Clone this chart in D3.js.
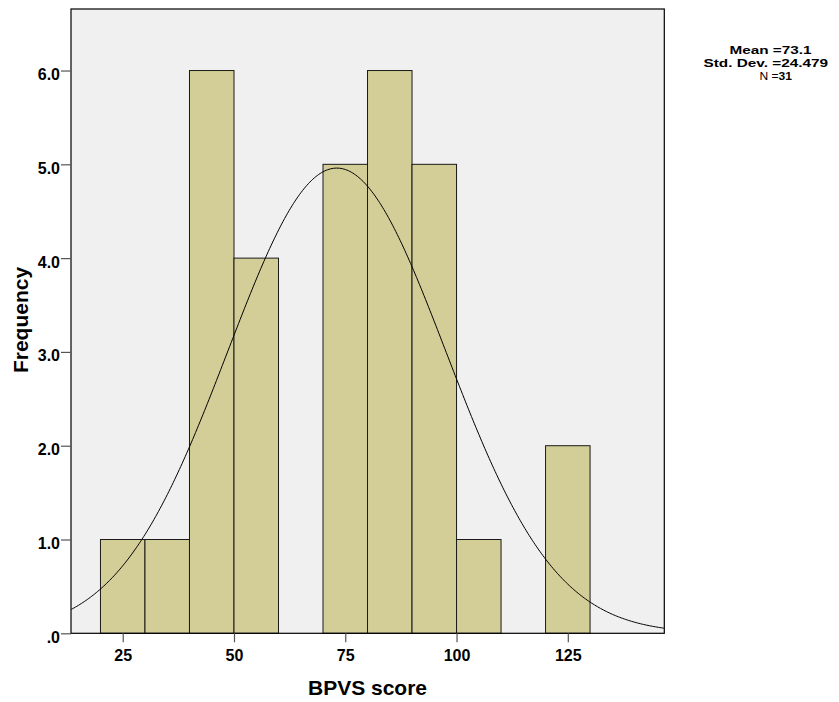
<!DOCTYPE html>
<html>
<head>
<meta charset="utf-8">
<script src="https://cdn.jsdelivr.net/npm/d3@7"></script>
<style>
  html, body { margin: 0; padding: 0; background: #ffffff; }
  svg { display: block; }
  text { font-family: "Liberation Sans", Arial, sans-serif; }
</style>
</head>
<body>
<svg id="chart" width="839" height="702"></svg>
<script>
// ---- Data ----
const binStarts = [20, 30, 40, 50, 60, 70, 80, 90, 100, 110, 120];
const binWidth = 10;
const frequencies = [1, 1, 6, 4, 0, 5, 6, 5, 1, 0, 2];
const xTickValues = [25, 50, 75, 100, 125];
const yTickValues = [0, 1, 2, 3, 4, 5, 6];
const yTickLabels = [".0", "1.0", "2.0", "3.0", "4.0", "5.0", "6.0"];
const statMean = 73.1;
const statSD = 24.479;
const statN = 31;
const curvePeak = 4.96; // height of the normal curve's peak as drawn
const xDomain = [13.38, 146.68];
const yDomain = [0, 6.656];

// ---- Layout ----
const plot = { left: 71, right: 664.3, top: 9, bottom: 633.3 };
const svg = d3.select("#chart");

const x = d3.scaleLinear().domain(xDomain).range([plot.left, plot.right]);
const y = d3.scaleLinear().domain(yDomain).range([plot.bottom, plot.top]);

// plot background
svg.append("rect")
  .attr("x", plot.left).attr("y", plot.top)
  .attr("width", plot.right - plot.left).attr("height", plot.bottom - plot.top)
  .attr("fill", "#f0f0f0");

// bars
const bins = binStarts.map((s, i) => ({ x0: s, x1: s + binWidth, f: frequencies[i] }));
svg.append("g").selectAll("rect")
  .data(bins.filter(d => d.f > 0))
  .join("rect")
  .attr("x", d => x(d.x0))
  .attr("y", d => y(d.f))
  .attr("width", d => x(d.x1) - x(d.x0))
  .attr("height", d => y(0) - y(d.f))
  .attr("fill", "#d3ce97")
  .attr("stroke", "#1a1a1a")
  .attr("stroke-width", 1);

// normal curve
const clipId = "plotclip";
svg.append("clipPath").attr("id", clipId).append("rect")
  .attr("x", plot.left).attr("y", plot.top)
  .attr("width", plot.right - plot.left).attr("height", plot.bottom - plot.top);
const curveXs = d3.range(0, 401).map(i => xDomain[0] + (xDomain[1] - xDomain[0]) * i / 400);
const curve = d3.line()
  .x(v => x(v))
  .y(v => y(curvePeak * Math.exp(-0.5 * Math.pow((v - statMean) / statSD, 2))))
  .curve(d3.curveBasis);
svg.append("path")
  .datum(curveXs)
  .attr("d", curve)
  .attr("fill", "none")
  .attr("stroke", "#000")
  .attr("stroke-width", 1)
  .attr("clip-path", `url(#${clipId})`);

// frame
svg.append("rect")
  .attr("x", plot.left).attr("y", plot.top)
  .attr("width", plot.right - plot.left).attr("height", plot.bottom - plot.top)
  .attr("fill", "none").attr("stroke", "#000").attr("stroke-width", 1.2);

// y axis
const yAxis = d3.axisLeft(y)
  .tickValues(yTickValues)
  .tickFormat((d, i) => yTickLabels[i])
  .tickSize(10).tickPadding(1);
const gy = svg.append("g").attr("transform", `translate(${plot.left},0)`).call(yAxis);
gy.select(".domain").remove();
gy.selectAll(".tick line").attr("stroke", "#555").attr("stroke-width", 1.2);
gy.selectAll(".tick text")
  .attr("dy", null).attr("y", 9)
  .attr("font-size", 16).attr("font-weight", "bold").attr("fill", "#000")
  .attr("font-family", "'Liberation Sans', Arial, sans-serif");

// x axis
const xAxis = d3.axisBottom(x)
  .tickValues(xTickValues)
  .tickFormat(d3.format("d"))
  .tickSize(9).tickPadding(4);
const gx = svg.append("g").attr("transform", `translate(0,${plot.bottom})`).call(xAxis);
gx.select(".domain").remove();
gx.selectAll(".tick line").attr("stroke", "#555").attr("stroke-width", 1.2);
gx.selectAll(".tick text")
  .attr("dy", null).attr("y", 27.5)
  .attr("font-size", 16).attr("font-weight", "bold").attr("fill", "#000")
  .attr("font-family", "'Liberation Sans', Arial, sans-serif");

// axis titles
svg.append("text")
  .attr("x", 367.5).attr("y", 695)
  .attr("text-anchor", "middle")
  .attr("font-size", 21).attr("font-weight", "bold")
  .text("BPVS score");

svg.append("text")
  .attr("transform", "translate(28,320) rotate(-90)")
  .attr("text-anchor", "middle")
  .attr("font-size", 21).attr("font-weight", "bold")
  .text("Frequency");

// statistics legend
const legendFont = 11.6;
svg.append("text").attr("x", 729.5).attr("y", 53.5)
  .attr("font-size", legendFont).attr("font-weight", "bold")
  .attr("textLength", 82).attr("lengthAdjust", "spacingAndGlyphs")
  .text(`Mean =${statMean}`);
svg.append("text").attr("x", 703.5).attr("y", 66.8)
  .attr("font-size", legendFont).attr("font-weight", "bold")
  .attr("textLength", 124.5).attr("lengthAdjust", "spacingAndGlyphs")
  .text(`Std. Dev. =${statSD}`);
const nText = svg.append("text").attr("x", 759.5).attr("y", 80.1)
  .attr("font-size", legendFont)
  .attr("textLength", 32.5).attr("lengthAdjust", "spacingAndGlyphs");
nText.append("tspan").text("N =");
nText.append("tspan").attr("font-weight", "bold").text(statN);
</script>
</body>
</html>
